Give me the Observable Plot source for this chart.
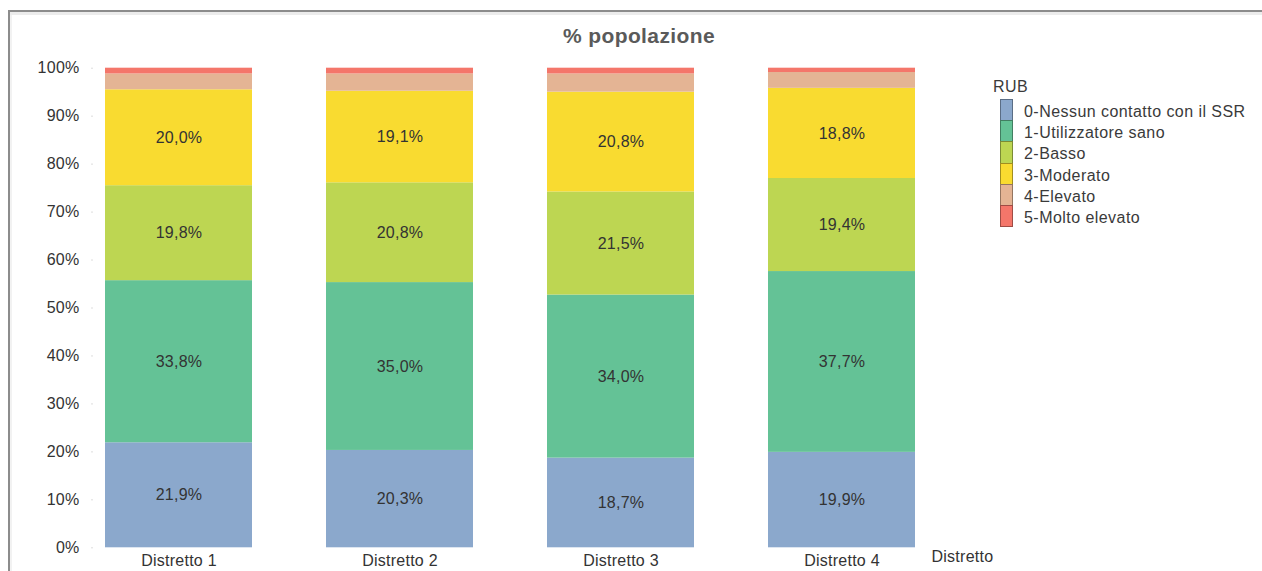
<!DOCTYPE html>
<html>
<head>
<meta charset="utf-8">
<script src="https://cdn.jsdelivr.net/npm/d3@7"></script>
<script src="https://cdn.jsdelivr.net/npm/@observablehq/plot@0.6"></script>
<style>
  html, body { margin: 0; padding: 0; background: #fff; }
  body { width: 1262px; height: 571px; position: relative; overflow: hidden; font-family: "Liberation Sans", Arial, sans-serif; }
  #frame { position: absolute; left: 8px; top: 10px; right: -4px; bottom: -4px;
           border-top: 2px solid #8c8c8c; border-left: 2px solid #8c8c8c;
           box-shadow: inset 0 3px 0 #ececec, inset 2px 0 0 #f2f2f2; }
  #chart { position: absolute; left: 0; top: 0; }
  #chart svg text { letter-spacing: 0.25px; }
  #title { position: absolute; left: 0; width: 1278px; top: 24px; text-align: center;
           font-size: 21px; font-weight: bold; color: #5a5a5a; letter-spacing: 0.4px; }
  #legend { position: absolute; left: 993px; top: 77px; font-size: 16px; color: #3a3a3a; letter-spacing: 0.45px; }
  #legend .head { height: 22px; line-height: 20px; }
  #legend .row { position: relative; height: 21.2px; }
  #legend .sw { position: absolute; left: 7px; top: 0; width: 11px; height: 20.2px; border: 0.5px solid rgba(0,0,0,0.35); }
  #legend .lab { position: absolute; left: 31px; top: 3px; line-height: 20px; white-space: nowrap; }
</style>
</head>
<body>
<div id="frame"></div>
<div id="chart"></div>
<div id="title">% popolazione</div>
<div id="legend"></div>
<script>
// Categories and series (percent of population per district)
const distretti = ["Distretto 1", "Distretto 2", "Distretto 3", "Distretto 4"];
const categorie = ["0-Nessun contatto con il SSR", "1-Utilizzatore sano", "2-Basso", "3-Moderato", "4-Elevato", "5-Molto elevato"];
const nessunContatto = [21.9, 20.3, 18.7, 19.9];
const utilizzatoreSano = [33.8, 35.0, 34.0, 37.7];
const basso = [19.8, 20.8, 21.5, 19.4];
const moderato = [20.0, 19.1, 20.8, 18.8];
const elevato = [3.3, 3.6, 3.8, 3.3];
const moltoElevato = [1.2, 1.2, 1.2, 0.9];
const colori = ["#8ba8cc", "#64c296", "#bdd652", "#f9db30", "#e4b494", "#f4766a"];
const yTicks = [0, 10, 20, 30, 40, 50, 60, 70, 80, 90, 100];
const etichettate = ["0-Nessun contatto con il SSR", "1-Utilizzatore sano", "2-Basso", "3-Moderato"];

const serie = [nessunContatto, utilizzatoreSano, basso, moderato, elevato, moltoElevato];
const rows = [];
distretti.forEach((d, i) => {
  categorie.forEach((c, j) => rows.push({ distretto: d, rub: c, value: serie[j][i] }));
});

const fmt = v => v.toFixed(1).replace(".", ",") + "%";

const chart = Plot.plot({
  width: 1262,
  height: 571,
  marginTop: 67.7,
  marginBottom: 23.7,
  marginLeft: 93,
  marginRight: 335,
  style: { fontFamily: "'Liberation Sans', Arial, sans-serif", fontSize: "16px", color: "#333", background: "transparent" },
  x: { domain: distretti, paddingInner: 0.335, paddingOuter: 0.054, label: null },
  y: { domain: [0, 100], label: null },
  color: { domain: categorie, range: colori },
  marks: [
    Plot.axisY({ ticks: yTicks, tickFormat: d => d + "%", tickSize: 2, tickPadding: 12, stroke: "#ddd", fontSize: 16, fill: "#333" }),
    Plot.axisX({ tickSize: 0, tickPadding: 7, fontSize: 16, fill: "#333", label: null }),
    Plot.barY(rows, Plot.stackY({ x: "distretto", y: "value", fill: "rub" })),
    Plot.text(rows, Plot.stackY({
      x: "distretto", y: "value",
      text: d => etichettate.includes(d.rub) ? fmt(d.value) : "",
      fill: "#333", fontSize: 16
    })),
    Plot.text(["Distretto"], { frameAnchor: "bottom-right", text: d => d, textAnchor: "start", dx: 4, dy: 14, fontSize: 16, fill: "#333" })
  ]
});
document.getElementById("chart").appendChild(chart);

// Legend
const legend = document.getElementById("legend");
const head = document.createElement("div");
head.className = "head";
head.textContent = "RUB";
legend.appendChild(head);
categorie.forEach((c, j) => {
  const row = document.createElement("div");
  row.className = "row";
  const sw = document.createElement("div");
  sw.className = "sw";
  sw.style.background = colori[j];
  const lab = document.createElement("div");
  lab.className = "lab";
  lab.textContent = c;
  row.appendChild(sw);
  row.appendChild(lab);
  legend.appendChild(row);
});
</script>
</body>
</html>
